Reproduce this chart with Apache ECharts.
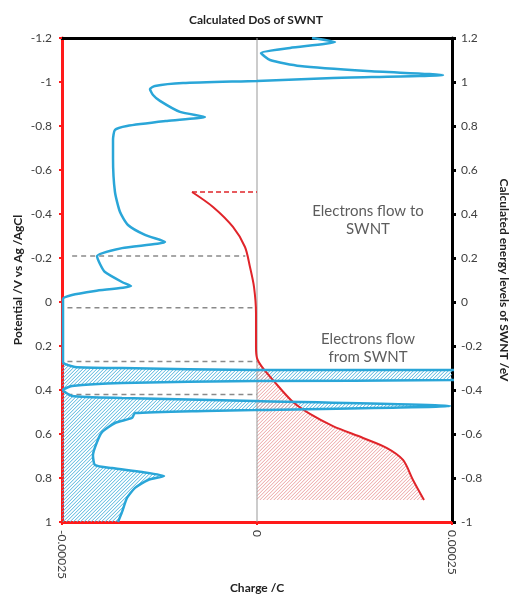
<!DOCTYPE html>
<html>
<head>
<meta charset="utf-8">
<script src="https://cdn.jsdelivr.net/npm/echarts@6/dist/echarts.min.js"></script>
<style>
  html, body { margin: 0; padding: 0; background: #fff; }
  #chart { width: 512px; height: 594px; }
</style>
</head>
<body>
<div id="chart"></div>
<script>
// DoS curve of the SWNT (charge axis C, potential V vs Ag/AgCl)
var dosQ = [
  0.0000705, 0.0001, 0.0000423, 0.0000051, 0.0000167, 0.0000551, 0.000141, 0.0002385,
  0.0000974, 0, -0.0000949, -0.0001308, -0.0001372, -0.0001333, -0.0001244, -0.0000987,
  -0.0000667, -0.0001154, -0.0001667, -0.0001821, -0.0001846, -0.0001846, -0.0001821,
  -0.0001756, -0.0001654, -0.0001436, -0.0001179, -0.0001731, -0.0002051, -0.0002013,
  -0.0001949, -0.0001731, -0.0001615, -0.0002077, -0.0002372, -0.0002487, -0.0002487,
  -0.0002487, -0.0002333, -0.0001731, -0.0000026, 0.00025, 0.00044, 0.00025, -0.0000026,
  -0.0001731, -0.0002372, -0.0002487, -0.0002372, -0.0001731, -0.0000026, 0.0002474,
  -0.0000026, -0.0000667, -0.0001564, -0.0001603, -0.0001821, -0.0001987, -0.0002051,
  -0.0002103, -0.0002077, -0.0001859, -0.0001474, -0.0001192, -0.0001397, -0.0001564,
  -0.0001667, -0.0001731, -0.0001782
];
var dosV = [
  -1.2, -1.182, -1.155, -1.132, -1.1, -1.073, -1.05, -1.032,
  -1.018, -1.005, -0.995, -0.982, -0.968, -0.941, -0.914, -0.864,
  -0.841, -0.823, -0.8, -0.782, -0.736, -0.655, -0.5,
  -0.409, -0.35, -0.305, -0.273, -0.245, -0.209, -0.173,
  -0.136, -0.091, -0.073, -0.05, -0.032, -0.014, 0.127,
  0.273, 0.295, 0.3, 0.309, 0.309, 0.332, 0.355, 0.359,
  0.368, 0.382, 0.4, 0.427, 0.436, 0.45, 0.473,
  0.491, 0.495, 0.505, 0.527, 0.55, 0.591, 0.636,
  0.695, 0.741, 0.755, 0.773, 0.791, 0.809, 0.845,
  0.891, 0.955, 1.0
];
// hatched part of the DoS starts here
var dosFillFrom = 0.273;

// measured charge
var chargeQ = [
  -0.0000833, -0.0000564, -0.0000308, -0.0000154, -0.000009, -0.0000038, -0.0000013,
  -0.0000013, 0, 0.0000064, 0.0000205, 0.0000462, 0.0000679, 0.0000974, 0.0001359,
  0.0001667, 0.0001872, 0.0002, 0.0002141
];
var chargeV = [
  -0.5, -0.432, -0.341, -0.25, -0.159, -0.068, 0.05,
  0.205, 0.255, 0.295, 0.355, 0.455, 0.509, 0.564, 0.618,
  0.664, 0.718, 0.809, 0.9
];

// dashed guide lines: potential, from charge, to charge
var guideV = [-0.209, 0.026, 0.271, 0.42];
var guideFrom = [-0.000237, -0.000243, -0.000243, -0.000243];
var guideTo = [-0.000015, 0, 0, 0];

var xTicks = [-0.00025, 0, 0.00025];

var blue = '#2aa6d8';
var red = '#e0242a';
var font = 'Lato';

function zip(a, b) {
  return a.map(function (v, i) { return [v, b[i]]; });
}

var dosData = zip(dosQ, dosV);
var chargeData = zip(chargeQ, chargeV);

// polygon between left axis and DoS curve
var dosFill = dosData.filter(function (p) { return p[1] >= dosFillFrom; });
dosFill.push([-0.00025, 1.0]);
dosFill.push([-0.00025, dosFillFrom]);

// polygon between zero charge and the charge curve
var chargeFill = chargeData.filter(function (p) { return p[0] >= 0; });
chargeFill.push([0, chargeV[chargeV.length - 1]]);

// "////" hatch lines inside a pixel polygon, as svg path data
function hatchPath(pts, step) {
  var us = pts.map(function (p) { return p[0] + p[1]; });
  var lo = Math.min.apply(null, us), hi = Math.max.apply(null, us);
  var d = '';
  for (var c = Math.ceil(lo / step) * step + 0.25; c <= hi; c += step) {
    var hits = [];
    for (var i = 0; i < pts.length; i++) {
      var a = pts[i], b = pts[(i + 1) % pts.length];
      var ua = us[i], ub = us[(i + 1) % pts.length];
      if ((ua <= c && c < ub) || (ub <= c && c < ua)) {
        var t = (c - ua) / (ub - ua);
        hits.push([a[0] + t * (b[0] - a[0]), a[1] + t * (b[1] - a[1])]);
      }
    }
    hits.sort(function (p, q) { return p[0] - q[0]; });
    for (var k = 0; k + 1 < hits.length; k += 2) {
      d += 'M' + hits[k][0].toFixed(2) + ' ' + hits[k][1].toFixed(2) +
        'L' + hits[k + 1][0].toFixed(2) + ' ' + hits[k + 1][1].toFixed(2);
    }
  }
  return d;
}

function hatchSeries(points, color) {
  return {
    type: 'custom',
    coordinateSystem: 'cartesian2d',
    clip: true,
    silent: true,
    z: 1,
    data: [[0, 0]],
    renderItem: function (params, api) {
      var px = points.map(function (p) { return api.coord(p); });
      return {
        type: 'path',
        shape: { pathData: hatchPath(px, 3.5) },
        style: { fill: null, stroke: color, lineWidth: 1 }
      };
    }
  };
}

var chart = echarts.init(document.getElementById('chart'));

var series = [
  hatchSeries(dosFill, '#4fb3dc'),
  hatchSeries(chargeFill, '#eba2a2'),
  {
    type: 'line',
    data: [[0, -1.2], [0, 1]],
    symbol: 'none',
    lineStyle: { color: '#999', width: 1 },
    z: 2,
    silent: true
  },
  {
    type: 'line',
    data: chargeData,
    symbol: 'none',
    smooth: 0.3,
    lineStyle: { color: red, width: 2 },
    z: 4
  },
  {
    type: 'line',
    data: [[chargeQ[0], chargeV[0]], [0, chargeV[0]]],
    symbol: 'none',
    lineStyle: { color: red, width: 1.5, type: [5, 3] },
    z: 4
  },
  {
    type: 'line',
    data: dosData,
    symbol: 'none',
    smooth: 0.2,
    lineStyle: { color: blue, width: 2.5 },
    z: 5
  },
  {
    type: 'scatter',
    symbolSize: 0,
    data: [[0.0001423, -0.373], [0.0001423, 0.209]],
    label: {
      show: true,
      position: 'inside',
      fontFamily: font,
      fontSize: 15,
      lineHeight: 18,
      color: '#333',
      formatter: function (p) {
        return p.dataIndex === 0 ? 'Electrons flow to\nSWNT' : 'Electrons flow\nfrom SWNT';
      }
    },
    z: 6
  }
];

guideV.forEach(function (v, i) {
  series.push({
    type: 'line',
    data: [[guideFrom[i], v], [guideTo[i], v]],
    symbol: 'none',
    lineStyle: { color: '#8a8a8a', width: 1.5, type: [5, 4] },
    z: 3
  });
});

var nameStyle = { fontFamily: font, fontSize: 12, fontWeight: 'bold', color: '#222' };

var option = {
  animation: false,
  title: {
    text: 'Calculated DoS of SWNT',
    left: 'center',
    top: 9,
    textStyle: nameStyle
  },
  grid: { left: 62, right: 60, top: 38, bottom: 72, containLabel: false, outerBoundsMode: 'none' },
  xAxis: [
    {
      type: 'value',
      min: -0.00025,
      max: 0.00025,
      interval: 0.00025,
      name: 'Charge /C',
      nameLocation: 'middle',
      nameGap: 60,
      nameMoveOverlap: false,
      nameTextStyle: nameStyle,
      axisLine: { onZero: false, lineStyle: { color: '#ff1a1a', width: 3 } },
      axisTick: { length: 3, lineStyle: { color: '#ff1a1a', width: 2 } },
      axisLabel: {
        rotate: -90,
        margin: 8,
        fontFamily: font,
        fontSize: 12,
        color: '#404040',
        formatter: function (v) {
          var i = xTicks.findIndex(function (t) { return Math.abs(t - v) < 1e-9; });
          return i < 0 ? '' : String(xTicks[i]);
        }
      },
      splitLine: { show: false }
    },
    {
      type: 'value',
      position: 'top',
      min: -0.00025,
      max: 0.00025,
      axisLine: { onZero: false, lineStyle: { color: '#000', width: 3 } },
      axisTick: { show: false },
      axisLabel: { show: false },
      splitLine: { show: false }
    }
  ],
  yAxis: [
    {
      type: 'value',
      inverse: true,
      min: -1.2,
      max: 1,
      interval: 0.2,
      name: 'Potential /V vs Ag /AgCl',
      nameLocation: 'middle',
      nameGap: 38,
      nameMoveOverlap: false,
      nameTextStyle: nameStyle,
      axisLine: { onZero: false, lineStyle: { color: '#ff1a1a', width: 3 } },
      axisTick: { length: 3, lineStyle: { color: '#ff1a1a', width: 2 } },
      axisLabel: { margin: 10, fontFamily: font, fontSize: 12, color: '#404040' },
      splitLine: { show: false }
    },
    {
      type: 'value',
      position: 'right',
      min: -1,
      max: 1.2,
      interval: 0.2,
      name: 'Calculated energy levels of SWNT /eV',
      nameLocation: 'middle',
      nameGap: 46,
      nameMoveOverlap: false,
      nameRotate: -90,
      nameTextStyle: nameStyle,
      axisLine: { onZero: false, lineStyle: { color: '#000', width: 3 } },
      axisTick: { length: 4, lineStyle: { color: '#000', width: 3 } },
      axisLabel: { margin: 9, fontFamily: font, fontSize: 12, color: '#404040' },
      splitLine: { show: false }
    }
  ],
  series: series
};

chart.setOption(option);
</script>
</body>
</html>
